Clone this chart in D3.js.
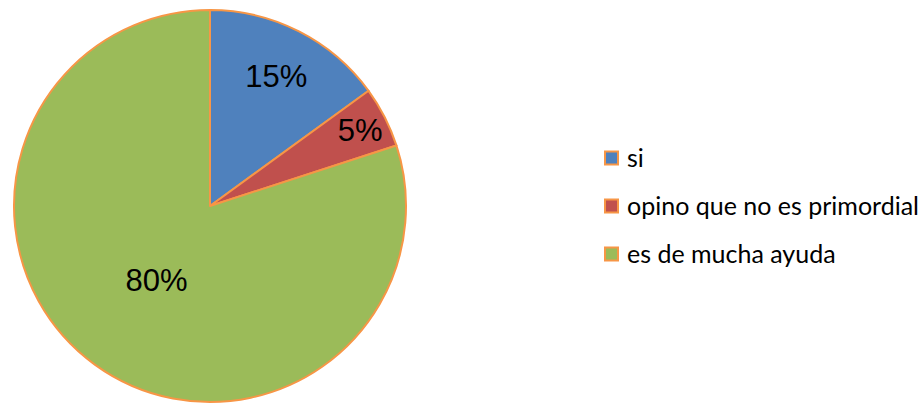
<!DOCTYPE html>
<html>
<head>
<meta charset="utf-8">
<script src="https://cdn.jsdelivr.net/npm/d3@7"></script>
<style>
  body { margin: 0; background: #fff; }
</style>
</head>
<body>
<div id="chart"></div>
<script>
// Data
const categories = ['si', 'opino que no es primordial', 'es de mucha ayuda']
const values = [15, 5, 80]
const labels = ['15%', '5%', '80%']
const colors = ['#4F81BD', '#C0504D', '#9BBB59']

// label distance from centre, as share of radius (Excel "best fit")
const labelRadius = [0.745, 0.86, 0.465]

const dimensions = { width: 922, height: 405 }
const cx = 210, cy = 206, radius = 196

const svg = d3.select('#chart')
  .append('svg')
  .attr('width', dimensions.width)
  .attr('height', dimensions.height)

const pie = d3.pie().sort(null).value(d => d)
const arcs = pie(values)

const arc = d3.arc().innerRadius(0).outerRadius(radius)

const ctr = svg.append('g')
  .attr('transform', `translate(${cx}, ${cy})`)

ctr.selectAll('path')
  .data(arcs)
  .join('path')
  .attr('d', arc)
  .attr('fill', (d, i) => colors[i])
  .attr('stroke', '#F79646')
  .attr('stroke-width', 2)
  .attr('stroke-linejoin', 'round')

ctr.selectAll('text')
  .data(arcs)
  .join('text')
  .attr('transform', (d, i) => {
    const r = radius * labelRadius[i]
    const a = (d.startAngle + d.endAngle) / 2
    return `translate(${Math.sin(a) * r}, ${-Math.cos(a) * r})`
  })
  .attr('text-anchor', 'middle')
  .attr('dy', '0.36em')
  .style('font-family', 'Liberation Sans, Arial, sans-serif')
  .style('font-size', '31px')
  .attr('fill', '#000')
  .text((d, i) => labels[i])

// legend
const legend = svg.append('g')
  .attr('transform', 'translate(605, 158)')

const rows = legend.selectAll('g')
  .data(categories)
  .join('g')
  .attr('transform', (d, i) => `translate(0, ${i * 48})`)

rows.append('rect')
  .attr('x', 0)
  .attr('y', -6.5)
  .attr('width', 13)
  .attr('height', 13)
  .attr('fill', (d, i) => colors[i])
  .attr('stroke', '#F79646')
  .attr('stroke-width', 2)

rows.append('text')
  .attr('x', 22)
  .attr('dy', '0.35em')
  .style('font-family', 'Lato, Carlito, Calibri, sans-serif')
  .style('font-size', '25px')
  .attr('fill', '#000')
  .text(d => d)
</script>
</body>
</html>
